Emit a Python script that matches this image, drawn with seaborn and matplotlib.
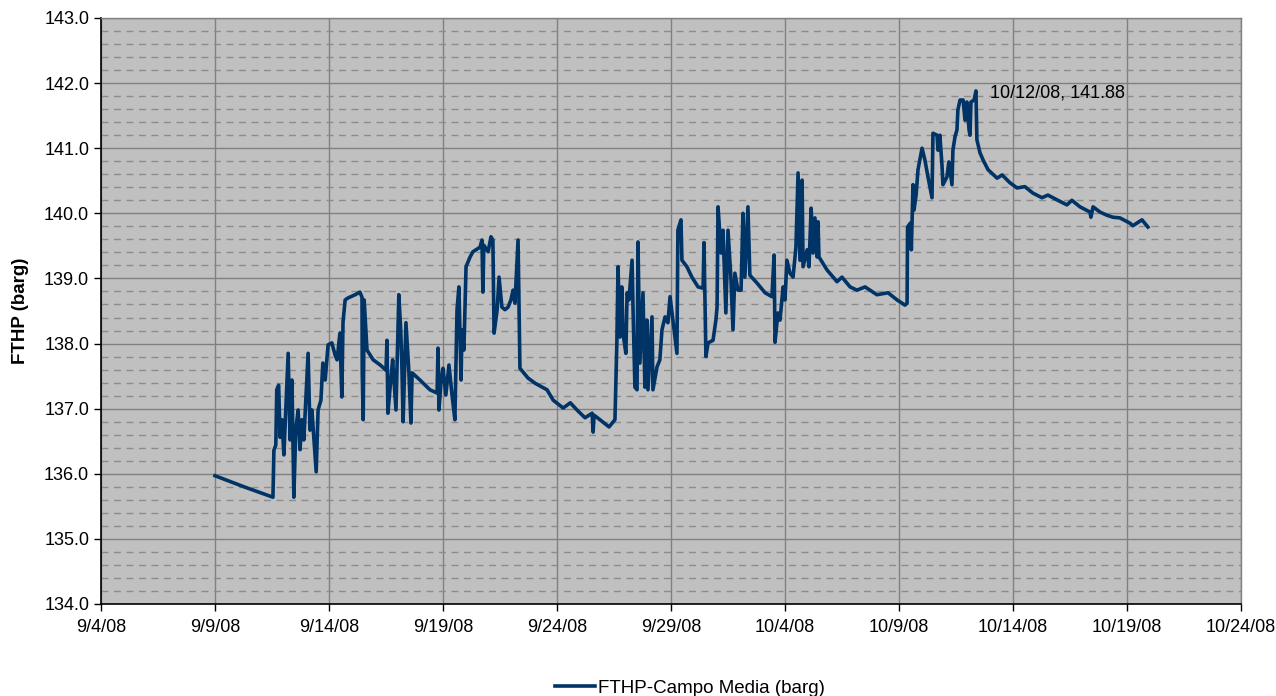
import matplotlib
matplotlib.use("Agg")
import matplotlib.pyplot as plt
import matplotlib.dates as mdates
from matplotlib.ticker import MultipleLocator, FormatStrFormatter
import seaborn as sns
import pandas as pd

# ---- data ----
times = [
    "2008-09-09 00:00", "2008-09-10 06:30", "2008-09-11 13:00", "2008-09-11 14:00", "2008-09-11 16:00",
    "2008-09-11 17:00", "2008-09-11 19:00", "2008-09-11 20:30", "2008-09-11 22:30", "2008-09-12 00:30",
    "2008-09-12 05:00", "2008-09-12 07:00", "2008-09-12 09:00", "2008-09-12 11:00", "2008-09-12 13:00",
    "2008-09-12 15:30", "2008-09-12 17:30", "2008-09-12 19:30", "2008-09-12 21:30", "2008-09-13 02:00",
    "2008-09-13 04:00", "2008-09-13 06:00", "2008-09-13 10:30", "2008-09-13 12:30", "2008-09-13 15:30",
    "2008-09-13 17:30", "2008-09-13 20:00", "2008-09-13 23:00", "2008-09-14 03:00", "2008-09-14 06:30",
    "2008-09-14 08:30", "2008-09-14 11:30", "2008-09-14 13:30", "2008-09-14 14:45", "2008-09-14 17:00",
    "2008-09-14 20:00", "2008-09-15 03:30", "2008-09-15 08:30", "2008-09-15 10:45", "2008-09-15 11:00",
    "2008-09-15 12:00", "2008-09-15 13:00", "2008-09-15 16:00", "2008-09-15 22:30", "2008-09-16 06:00",
    "2008-09-16 12:00", "2008-09-16 13:00", "2008-09-16 14:00", "2008-09-16 17:00", "2008-09-16 19:00",
    "2008-09-16 22:30", "2008-09-17 01:30", "2008-09-17 03:30", "2008-09-17 04:45", "2008-09-17 06:00",
    "2008-09-17 09:00", "2008-09-17 12:00", "2008-09-17 14:15", "2008-09-17 15:30", "2008-09-17 23:45",
    "2008-09-18 10:15", "2008-09-18 17:45", "2008-09-18 18:45", "2008-09-18 19:45", "2008-09-18 22:00",
    "2008-09-19 00:00", "2008-09-19 03:00", "2008-09-19 06:15", "2008-09-19 09:30", "2008-09-19 12:30",
    "2008-09-19 14:45", "2008-09-19 16:45", "2008-09-19 19:00", "2008-09-19 20:00", "2008-09-19 22:00",
    "2008-09-20 00:15", "2008-09-20 04:30", "2008-09-20 07:30", "2008-09-20 15:00", "2008-09-20 17:00",
    "2008-09-20 18:00", "2008-09-20 19:00", "2008-09-20 23:30", "2008-09-21 02:30", "2008-09-21 04:30",
    "2008-09-21 05:45", "2008-09-21 09:00", "2008-09-21 11:00", "2008-09-21 14:00", "2008-09-21 17:15",
    "2008-09-21 20:30", "2008-09-21 23:30", "2008-09-22 01:45", "2008-09-22 03:45", "2008-09-22 07:00",
    "2008-09-22 08:00", "2008-09-22 09:00", "2008-09-22 17:30", "2008-09-23 01:00", "2008-09-23 13:30",
    "2008-09-23 20:00", "2008-09-24 06:30", "2008-09-24 14:00", "2008-09-24 21:00", "2008-09-25 05:30",
    "2008-09-25 13:00", "2008-09-25 14:00", "2008-09-25 15:00", "2008-09-25 21:15", "2008-09-26 06:45",
    "2008-09-26 13:00", "2008-09-26 15:00", "2008-09-26 16:15", "2008-09-26 18:15", "2008-09-26 20:15",
    "2008-09-26 21:30", "2008-09-27 00:30", "2008-09-27 01:45", "2008-09-27 03:45", "2008-09-27 07:00",
    "2008-09-27 08:00", "2008-09-27 10:00", "2008-09-27 12:15", "2008-09-27 13:15", "2008-09-27 15:15",
    "2008-09-27 18:30", "2008-09-27 20:30", "2008-09-27 22:45", "2008-09-27 23:45", "2008-09-28 04:00",
    "2008-09-28 05:00", "2008-09-28 09:15", "2008-09-28 12:15", "2008-09-28 14:30", "2008-09-28 17:45",
    "2008-09-28 20:45", "2008-09-28 23:00", "2008-09-29 02:00", "2008-09-29 06:15", "2008-09-29 07:15",
    "2008-09-29 10:30", "2008-09-29 11:30", "2008-09-29 16:45", "2008-09-29 22:00", "2008-09-30 04:30",
    "2008-09-30 09:45", "2008-09-30 10:45", "2008-09-30 12:45", "2008-09-30 15:00", "2008-09-30 20:15",
    "2008-09-30 23:15", "2008-10-01 00:30", "2008-10-01 01:30", "2008-10-01 04:45", "2008-10-01 06:45",
    "2008-10-01 09:45", "2008-10-01 12:00", "2008-10-01 15:00", "2008-10-01 17:15", "2008-10-01 19:15",
    "2008-10-01 22:30", "2008-10-02 01:45", "2008-10-02 03:45", "2008-10-02 05:45", "2008-10-02 09:00",
    "2008-10-02 11:00", "2008-10-02 18:30", "2008-10-03 03:00", "2008-10-03 10:15", "2008-10-03 12:30",
    "2008-10-03 13:30", "2008-10-03 16:30", "2008-10-03 18:45", "2008-10-03 22:00", "2008-10-04 00:00",
    "2008-10-04 02:00", "2008-10-04 05:15", "2008-10-04 08:30", "2008-10-04 11:30", "2008-10-04 13:45",
    "2008-10-04 15:45", "2008-10-04 18:00", "2008-10-04 19:00", "2008-10-04 23:15", "2008-10-05 01:15",
    "2008-10-05 03:30", "2008-10-05 05:30", "2008-10-05 07:30", "2008-10-05 09:45", "2008-10-05 10:45",
    "2008-10-05 11:45", "2008-10-05 20:15", "2008-10-06 06:45", "2008-10-06 12:00", "2008-10-06 20:30",
    "2008-10-07 03:45", "2008-10-07 12:15", "2008-10-08 00:45", "2008-10-08 12:30", "2008-10-08 22:00",
    "2008-10-09 06:15", "2008-10-09 08:30", "2008-10-09 09:00", "2008-10-09 12:00", "2008-10-09 13:00",
    "2008-10-09 14:45", "2008-10-09 15:45", "2008-10-09 18:00", "2008-10-09 20:00", "2008-10-10 00:15",
    "2008-10-10 03:15", "2008-10-10 06:30", "2008-10-10 10:45", "2008-10-10 11:45", "2008-10-10 16:00",
    "2008-10-10 17:00", "2008-10-10 19:00", "2008-10-10 21:15", "2008-10-10 22:15", "2008-10-11 02:30",
    "2008-10-11 04:30", "2008-10-11 07:45", "2008-10-11 08:45", "2008-10-11 11:00", "2008-10-11 13:00",
    "2008-10-11 14:00", "2008-10-11 16:15", "2008-10-11 19:30", "2008-10-11 21:30", "2008-10-11 23:30",
    "2008-10-12 01:45", "2008-10-12 02:45", "2008-10-12 03:45", "2008-10-12 07:00", "2008-10-12 09:00",
    "2008-10-12 10:00", "2008-10-12 13:15", "2008-10-12 16:30", "2008-10-12 21:45", "2008-10-13 07:15",
    "2008-10-13 12:30", "2008-10-13 20:45", "2008-10-14 04:15", "2008-10-14 12:30", "2008-10-14 21:00",
    "2008-10-15 06:30", "2008-10-15 12:45", "2008-10-15 23:15", "2008-10-16 08:45", "2008-10-16 14:00",
    "2008-10-16 22:30", "2008-10-17 09:00", "2008-10-17 10:00", "2008-10-17 12:15", "2008-10-17 19:30",
    "2008-10-18 03:00", "2008-10-18 09:15", "2008-10-18 16:30", "2008-10-19 03:00", "2008-10-19 06:15",
    "2008-10-19 15:45", "2008-10-19 22:00",
]
fthp = [
    135.97, 135.80, 135.64, 136.36, 136.44,
    137.29, 137.36, 136.56, 136.83, 136.29,
    137.85, 136.52, 137.44, 135.64, 136.67,
    136.98, 136.37, 136.83, 136.52, 137.85,
    136.67, 136.98, 136.03, 136.98, 137.13,
    137.70, 137.44, 137.98, 138.01, 137.82,
    137.75, 138.16, 137.18, 138.33, 138.67,
    138.70, 138.75, 138.79, 138.71, 137.55,
    136.83, 138.67, 137.90, 137.75, 137.67,
    137.59, 138.05, 136.93, 137.44, 137.75,
    136.98, 138.75, 138.21, 137.64, 136.80,
    138.32, 137.59, 136.78, 137.55, 137.44,
    137.29, 137.24, 137.93, 136.98, 137.44,
    137.62, 137.21, 137.67, 137.21, 136.83,
    138.52, 138.87, 137.44, 138.21, 137.90,
    139.18, 139.33, 139.41, 139.48, 139.59,
    138.79, 139.51, 139.41, 139.64, 139.59,
    138.16, 138.52, 139.02, 138.56, 138.52,
    138.56, 138.67, 138.82, 138.62, 139.59,
    138.62, 137.62, 137.47, 137.39, 137.29,
    137.13, 137.01, 137.09, 136.98, 136.86,
    136.93, 136.64, 136.90, 136.83, 136.72,
    136.83, 138.01, 139.18, 138.10, 138.87,
    138.16, 137.85, 138.78, 138.67, 139.28,
    138.56, 137.33, 137.29, 139.56, 137.70,
    138.78, 137.33, 138.36, 137.29, 138.41,
    137.29, 137.64, 137.75, 138.21, 138.41,
    138.32, 138.72, 138.36, 137.85, 139.74,
    139.90, 139.28, 139.18, 139.02, 138.87,
    138.85, 139.55, 137.80, 138.01, 138.05,
    138.36, 138.56, 140.10, 139.39, 139.74,
    138.47, 139.74, 139.02, 138.21, 139.08,
    138.82, 138.82, 140.00, 139.02, 140.10,
    139.05, 138.93, 138.78, 138.72, 139.36,
    138.02, 138.47, 138.36, 138.87, 138.67,
    139.28, 139.08, 139.02, 139.48, 140.62,
    139.28, 140.51, 139.18, 139.44, 139.18,
    140.08, 139.39, 139.93, 139.33, 139.87,
    139.33, 139.13, 138.95, 139.02, 138.87,
    138.82, 138.87, 138.75, 138.78, 138.67,
    138.59, 138.62, 139.79, 139.85, 139.44,
    140.44, 140.05, 140.28, 140.67, 141.00,
    140.82, 140.56, 140.24, 141.23, 141.20,
    140.97, 141.20, 140.74, 140.44, 140.56,
    140.79, 140.44, 140.97, 141.18, 141.28,
    141.59, 141.74, 141.74, 141.43, 141.71,
    141.28, 141.20, 141.71, 141.74, 141.88,
    141.13, 140.93, 140.82, 140.67, 140.54,
    140.59, 140.47, 140.39, 140.41, 140.31,
    140.24, 140.28, 140.20, 140.13, 140.20,
    140.10, 140.02, 139.94, 140.10, 140.02,
    139.97, 139.94, 139.93, 139.85, 139.81,
    139.90, 139.79,
]
series_name = "FTHP-Campo Media (barg)"
y_label = "FTHP (barg)"
x_start, x_end = "2008-09-04", "2008-10-24"
y_min, y_max = 134.0, 143.0

df = pd.DataFrame({"time": pd.to_datetime(times), "value": fthp})

plt.rcParams["font.family"] = ["Liberation Sans", "DejaVu Sans"]

# ---- figure ----
fig = plt.figure(figsize=(12.76, 6.96), dpi=100)
ax = fig.add_axes([101 / 1276, 1 - 604 / 696, 1140 / 1276, 586 / 696])

ax.set_facecolor("#C0C0C0")
sns.lineplot(data=df, x="time", y="value", ax=ax, estimator=None, sort=False,
             color="#003366", linewidth=2.6, label=series_name, zorder=5)

ax.set_xlim(pd.Timestamp(x_start), pd.Timestamp(x_end))
ax.set_ylim(y_min, y_max)
ax.set_xticks(pd.date_range(x_start, x_end, freq="5D"))
ax.xaxis.set_major_formatter(
    matplotlib.ticker.FuncFormatter(
        lambda v, p: (lambda d: f"{d.month}/{d.day}/{d:%y}")(mdates.num2date(v))))
ax.yaxis.set_major_locator(MultipleLocator(1.0))
ax.yaxis.set_minor_locator(MultipleLocator(0.2))
ax.yaxis.set_major_formatter(FormatStrFormatter("%.1f"))

ax.grid(which="major", axis="both", color="#808080", linewidth=1.0, linestyle="-", zorder=1)
ax.grid(which="minor", axis="y", color="#8C8C8C", linewidth=1.0, linestyle=(0, (5, 4)), zorder=1)
ax.set_axisbelow(True)
ax.tick_params(axis="y", which="minor", length=0)
ax.tick_params(axis="both", which="major", length=5, width=1, color="black",
               labelsize=13, labelcolor="black", direction="out")
ax.tick_params(axis="x", pad=6)

for s in ("left", "bottom"):
    ax.spines[s].set_color("black")
    ax.spines[s].set_linewidth(1.2)
for s in ("top", "right"):
    ax.spines[s].set_color("#808080")
    ax.spines[s].set_linewidth(1.0)

ax.set_xlabel("")
ax.set_ylabel(y_label, fontsize=13.5, fontweight="bold", labelpad=11)

# peak annotation
i_peak = df["value"].idxmax()
pk_t, pk_v = df.loc[i_peak, "time"], df.loc[i_peak, "value"]
ax.annotate(f"{pk_t.month}/{pk_t.day}/{pk_t:%y}, {pk_v:.2f}", xy=(pk_t, pk_v),
            xytext=(14, -2), textcoords="offset pixels", fontsize=13,
            va="center", ha="left", color="black", zorder=6)

ax.get_legend().remove()
handles, labels = ax.get_legend_handles_labels()
fig.legend(handles, labels, loc="lower center", bbox_to_anchor=(0.541, -0.025),
           frameon=False, fontsize=13.5, handlelength=2.1, handletextpad=0.2)

fig.savefig("out.png", dpi=100)
